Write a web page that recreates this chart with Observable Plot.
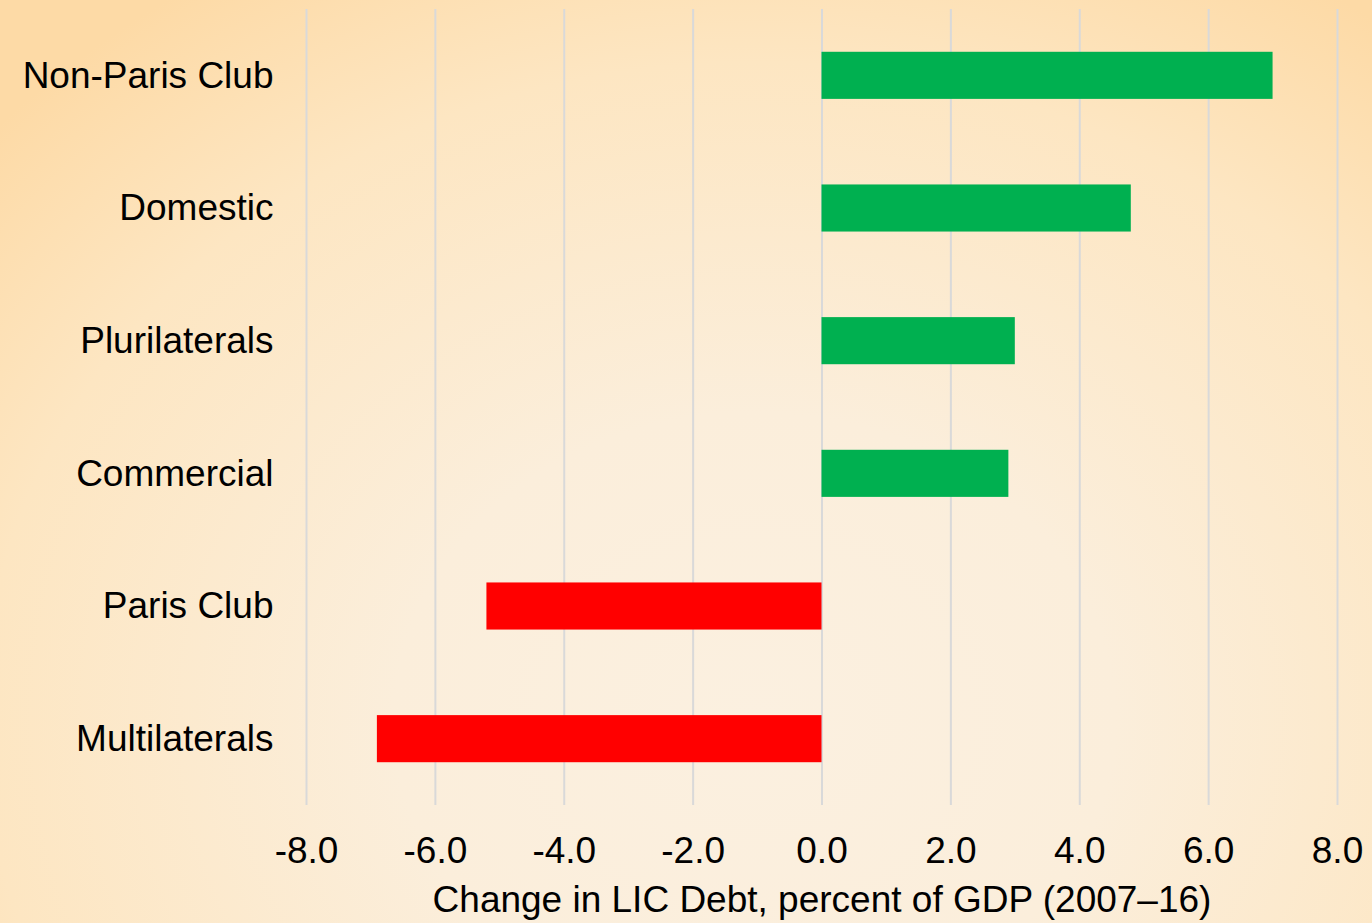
<!DOCTYPE html>
<html>
<head>
<meta charset="utf-8">
<script src="https://cdn.jsdelivr.net/npm/d3@7"></script>
<script src="https://cdn.jsdelivr.net/npm/@observablehq/plot@0.6"></script>
<style>
  html, body { margin: 0; padding: 0; }
  body {
    width: 1372px; height: 923px; overflow: hidden;
    background: radial-gradient(ellipse 75% 95% at 55% 78%, #fbf0e0 0%, #fbeedb 35%, #fde6c2 75%, #fddaa6 100%);
    font-family: "Liberation Sans", Arial, sans-serif;
  }
  svg { background: transparent !important; display: block; }
</style>
</head>
<body>
<div id="chart"></div>
<script>
const categories = ["Non-Paris Club", "Domestic", "Plurilaterals", "Commercial", "Paris Club", "Multilaterals"];
const values = [7.0, 4.8, 3.0, 2.9, -5.2, -6.9];
const xTicks = [-8, -6, -4, -2, 0, 2, 4, 6, 8];
const xLabel = "Change in LIC Debt, percent of GDP (2007–16)";

const data = categories.map((c, i) => ({category: c, value: values[i]}));

const chart = Plot.plot({
  width: 1372,
  height: 923,
  marginTop: 9,
  marginBottom: 118,
  marginLeft: 306,
  marginRight: 35,
  style: {background: "transparent", fontFamily: "'Liberation Sans', Arial, sans-serif", color: "#000"},
  x: {domain: [-8, 8]},
  y: {domain: categories, paddingInner: 0.645, paddingOuter: 0.3225, round: false},
  marks: [
    Plot.gridX(xTicks, {stroke: "#d9d9d9", strokeOpacity: 1, strokeWidth: 2}),
    Plot.barX(data, {
      x: "value",
      y: "category",
      fill: d => d.value >= 0 ? "#00B050" : "#FF0000"
    }),
    Plot.axisX({
      ticks: xTicks,
      tickFormat: d => d.toFixed(1),
      tickSize: 0,
      tickPadding: 31,
      fontSize: 37,
      label: xLabel,
      labelAnchor: "center",
      labelArrow: "none",
      labelOffset: 106
    }),
    Plot.axisY({
      tickSize: 0,
      tickPadding: 33,
      fontSize: 37,
      label: null
    })
  ]
});
document.getElementById("chart").appendChild(chart);
</script>
</body>
</html>
